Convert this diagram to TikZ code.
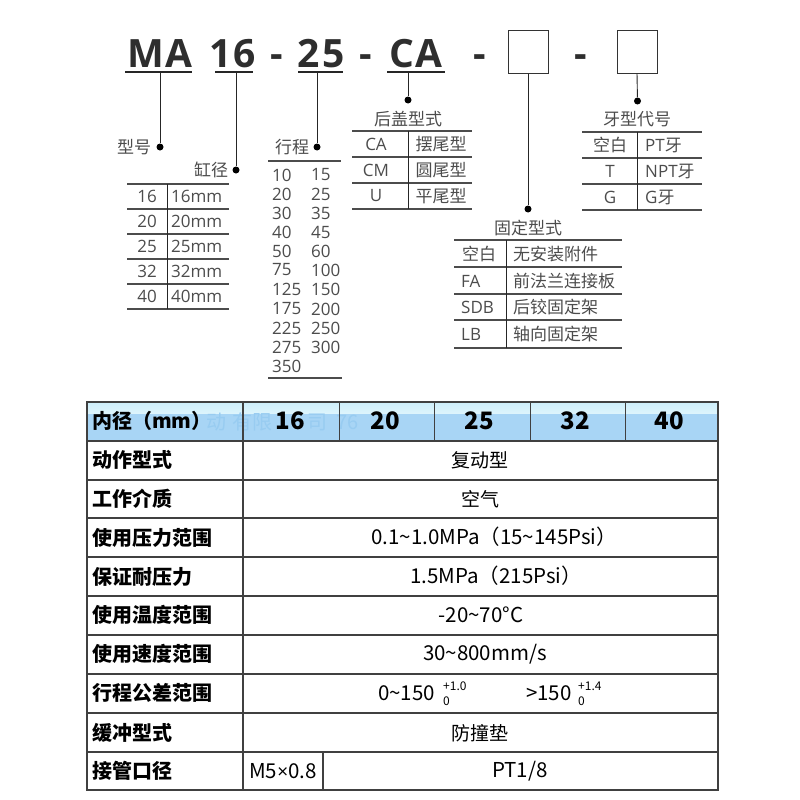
\documentclass[tikz,border=0pt]{standalone}
\usepackage{fontspec}
\setmainfont{Noto Sans CJK SC}
\newfontfamily\lat{Open Sans}
\tikzset{x=1pt,y=-1pt,
 thinrule/.style={line width=1.1pt,draw=black!70},
 grid/.style={line width=1.3pt,draw=black!75},
 lead/.style={line width=0.9pt,draw=black!85},
 uline/.style={line width=1.5pt,draw=black!85},
 dotn/.style={circle,fill=black,inner sep=0pt,minimum size=7pt},
 ttl/.style={font=\lat\fontsize{39}{39}\selectfont\bfseries,text=black!82,anchor=base,inner sep=0pt},
 lab/.style={font=\fontsize{17}{17}\selectfont,text=black!70,inner sep=0pt},
 labl/.style={lab,anchor=west},
 labz/.style={font=\fontsize{17}{17}\selectfont\lat,text=black!70,inner sep=0pt},
 labzl/.style={labz,anchor=west},
 hd/.style={font=\fontsize{20}{20}\selectfont\bfseries,text=black,anchor=west,inner sep=0pt},
 num/.style={font=\fontsize{24}{24}\selectfont\bfseries,text=black,inner sep=0pt},
 val/.style={font=\fontsize{19}{19}\selectfont,text=black,inner sep=0pt},
 valz/.style={font=\fontsize{20.5}{20.5}\selectfont,text=black,inner sep=0pt},
 tiny/.style={font=\fontsize{12}{12}\selectfont,text=black,anchor=west,inner sep=0pt},
 wm/.style={font=\fontsize{20}{20}\selectfont,text={rgb,255:red,152;green,204;blue,241},inner sep=0pt},
}
\begin{document}
\begin{tikzpicture}
\useasboundingbox (0,0) rectangle (800,800);
% title
\node[ttl] (tma) at (160,67) {M\kern2pt A};
\node[ttl] (t16) at (233,67) {1\kern2pt 6};
\node[ttl] (td1) at (277,67) {-};
\node[ttl] (t25) at (321,67) {2\kern2pt 5};
\node[ttl] (td2) at (366,67) {-};
\node[ttl] (tca) at (416,67) {C\kern1pt A};
\node[ttl] (td3) at (480,67) {-};
\node[ttl] (td4) at (581,67) {-};
\draw[uline] (125,72) -- (192,72);
\draw[uline] (215,72) -- (253,72);
\draw[uline] (298,72) -- (343,72);
\draw[uline] (387,72) -- (445,72);
\node[draw=black!80,line width=1pt,minimum width=40pt,minimum height=42pt,inner sep=0pt] (b1) at (528,52) {};
\node[draw=black!80,line width=1pt,minimum width=40pt,minimum height=42pt,inner sep=0pt] (b2) at (637,52) {};
% leaders
\coordinate (u1) at (160,72); \coordinate (u2) at (236,72); \coordinate (u3) at (317,72); \coordinate (u4) at (408,72);
\node[dotn] (d1) at (160,147) {};
\node[dotn] (d2) at (236,170) {};
\node[dotn] (d3) at (317,147) {};
\node[dotn] (d4) at (408,100) {};
\node[dotn] (d5) at (528,209) {};
\node[dotn] (d6) at (637.5,101) {};
\draw[lead] (u1) -- (d1);
\draw[lead] (u2) -- (d2);
\draw[lead] (u3) -- (d3);
\draw[lead] (u4) -- (d4);
\draw[lead] (b1.south) -- (d5);
\draw[lead] (b2.south) -- (d6);
% headings
\node[lab] (h1) at (134,147) {型号};
\node[lab] (h2) at (211,170) {缸径};
\node[lab] (h3) at (292,147) {行程};
\node[lab] (h4) at (408,119) {后盖型式};
\node[lab] (h5) at (637,119) {牙型代号};
\node[lab] (h6) at (528,228) {固定型式};
% bore table
\foreach \y in {184,209,234,259,284,309} \draw[thinrule] (127,\y) -- (229,\y);
\draw[lead] (167,184) -- (167,309);
\foreach \y/\a in {196.5/16,221.5/20,246.5/25,271.5/32,296.5/40}{
  \node[labz] at (147,\y) {\a};
  \node[labzl] at (171,\y) {\a mm};
}
% stroke list
\draw[thinrule] (268,161) -- (341,161);
\draw[thinrule] (268,378) -- (342,378);
\foreach \y/\a/\b in {175/10/15,194/20/25,213/30/35,232/40/45,251/50/60,270/75/100,289.5/125/150,309/175/200,328/225/250,347/275/300}{
  \node[labzl] at (272,\y) {\a};
  \node[labzl] at (311,\y) {\b};
}
\node[labzl] at (272,366) {350};
% rear cover table
\foreach \y in {131,157,183,209} \draw[thinrule] (352,\y) -- (472,\y);
\draw[lead] (408,131) -- (408,209);
\foreach \y/\a/\b in {144/CA/摆尾型,170/CM/圆尾型,196/U/平尾型}{
  \node[labz] at (376,\y) {\a};
  \node[lab] at (441,\y) {\b};
}
% thread table
\foreach \y in {132,158,184,210} \draw[thinrule] (582,\y) -- (702,\y);
\draw[lead] (637,132) -- (637,210);
\node[lab] at (610,145) {空白};
\node[labz] at (610,171) {T};
\node[labz] at (610,197) {G};
\node[labl] at (645,145) {{\lat PT}牙};
\node[labl] at (645,171) {{\lat NPT}牙};
\node[labl] at (645,197) {{\lat G}牙};
% mount table
\foreach \y in {240,267,294,320,348} \draw[thinrule] (454,\y) -- (622,\y);
\draw[lead] (506,240) -- (506,348);
\node[lab] at (479,254) {空白};
\node[labzl] at (461,281) {FA};
\node[labzl] at (461,307) {SDB};
\node[labzl] at (461,334) {LB};
\node[labl] at (513,254) {无安装附件};
\node[labl] at (513,281) {前法兰连接板};
\node[labl] at (513,307) {后铰固定架};
\node[labl] at (513,334) {轴向固定架};
% spec table band
\fill[top color={rgb,255:red,205;green,238;blue,250},bottom color={rgb,255:red,222;green,245;blue,252}] (87,402) rectangle (718,414);
\fill[color={rgb,255:red,168;green,213;blue,245}] (87,414) rectangle (718,441);
% faint watermark
\foreach \x/\t in {216/动,242/有,262/限,317/司,342/7,353/6} \node[wm] at (\x,422) {\t};
% spec grid
\draw[grid] (87,402) rectangle (718,790);
\foreach \y in {441,480,518,557,596,635,674,713,752} \draw[grid] (87,\y) -- (718,\y);
\draw[grid] (243,402) -- (243,790);
\foreach \x in {339,434,530,625} \draw[line width=1pt,draw=black!75] (\x,402) -- (\x,441);
\draw[grid] (323,752) -- (323,790);
% spec text
\foreach \y/\t in {460/动作型式,499/工作介质,538/使用压力范围,577/保证耐压力,615/使用温度范围,654/使用速度范围,693/行程公差范围,733/缓冲型式,771/接管口径}
  \node[hd] at (92,\y) {\t};
\node[hd] at (92,421) {内径（mm）};
\foreach \x/\t in {290/16,385/20,479/25,575/32,669/40} \node[num] at (\x,421) {\t};
\node[val] at (480,460) {复动型};
\node[val] at (480,499) {空气};
\node[valz,anchor=west] at (371,537) {0.1\textasciitilde 1.0MPa（15\textasciitilde 145Psi）};
\node[valz,anchor=west] at (410,576) {1.5MPa（215Psi）};
\node[valz] at (481,615) {-20\textasciitilde 70°C};
\node[valz] at (485,654) {30\textasciitilde 800mm/s};
\node[valz,anchor=west] (tl1) at (378,693) {0\textasciitilde 150};
\node[tiny] at (443,686) {+1.0};
\node[tiny] at (443,701) {0};
\node[valz,anchor=west] (tl2) at (526,693) {>150};
\node[tiny] at (578,686) {+1.4};
\node[tiny] at (578,701) {0};
\node[val] at (480,733) {防撞垫};
\node[valz] at (283,771) {M5{\lat\fontsize{19}{19}\selectfont ×}0.8};
\node[valz] at (520,771) {PT1/8};
\end{tikzpicture}
\end{document}
